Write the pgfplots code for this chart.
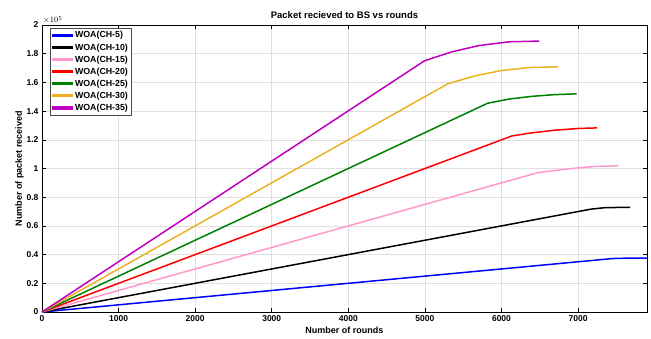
\documentclass[border=0pt]{standalone}
\usepackage{pgfplots}
\pgfplotsset{compat=1.18}
\usepackage{fontspec}
\setmainfont{Liberation Sans}
\definecolor{cblue}{rgb}{0,0,1}
\definecolor{cpink}{rgb}{1,0.6,0.8}
\definecolor{cred}{rgb}{1,0,0}
\definecolor{cgreen}{rgb}{0,0.5,0}
\definecolor{corange}{rgb}{0.93,0.69,0.13}
\definecolor{cmag}{rgb}{0.75,0,0.75}
\begin{document}
\begin{tikzpicture}[x=1pt,y=1pt]
\useasboundingbox (-42pt,-26pt) rectangle (609pt,312pt);
\begin{axis}[
  at={(0,0)}, anchor=south west,
  scale only axis, width=605pt, height=287pt,
  xmin=0, xmax=7900, ymin=0, ymax=200000,
  xtick={0,1000,...,7000},
  ytick={0,20000,...,200000},
  scaled x ticks=false,
  scaled y ticks=base 10:-5,
  tick scale binop=\times,
  every y tick scale label/.style={at={(rel axis cs:0,1)}, anchor=south west, inner sep=1pt, xshift=0pt, font=\fontsize{8}{9}\selectfont},
  yticklabel style={/pgf/number format/fixed, /pgf/number format/precision=1},
  /pgf/number format/assume math mode=true,
  /pgf/number format/1000 sep={},
  ticklabel style={font=\bfseries\fontsize{8.5}{10}\selectfont},
  tick align=inside,
  major tick length=4pt,
  tick style={black, line width=0.6pt},
  axis line style={line width=0.8pt},
  grid=major,
  major grid style={gray!25, line width=0.5pt},
  title={\bfseries Packet recieved to BS vs rounds},
  title style={font=\fontsize{9.5}{11}\selectfont, yshift=-3pt},
  xlabel={\bfseries Number of rounds},
  ylabel={\bfseries Number of packet received},
  label style={font=\fontsize{9}{11}\selectfont},
  xlabel style={yshift=1.5pt},
  ylabel style={yshift=-4pt},
  legend cell align=left,
  legend style={font=\bfseries\fontsize{8.8}{10}\selectfont, draw=black!70, inner sep=1.5pt, row sep=0.2pt, at={(0.013,0.99)}, anchor=north west},
  legend image code/.code={\fill[#1] (0pt,-0.85pt) rectangle (20pt,0.85pt);},
  every axis plot/.append style={line width=1.5pt},
]
\addplot[cblue] coordinates {(0,0) (7450,37250) (7650,37550) (7900,37600)};
\addlegendentry{WOA(CH-5)}
\addplot[black] coordinates {(0,0) (7170,71700) (7350,72700) (7680,73000)};
\addlegendentry{WOA(CH-10)}
\addplot[cpink] coordinates {(0,0) (6480,97200) (7000,100500) (7250,101500) (7525,101900)};
\addlegendentry{WOA(CH-15)}
\addplot[cred] coordinates {(0,0) (6137,122700) (6400,124900) (6700,126700) (7000,127900) (7250,128300)};
\addlegendentry{WOA(CH-20)}
\addplot[cgreen] coordinates {(0,0) (5820,145500) (6100,148400) (6400,150300) (6700,151500) (6980,152000)};
\addlegendentry{WOA(CH-25)}
\addplot[corange] coordinates {(0,0) (5298,159000) (5650,164500) (6000,168300) (6350,170300) (6740,170900)};
\addlegendentry{WOA(CH-30)}
\addplot[cmag] coordinates {(0,0) (4993,175000) (5350,181300) (5710,185700) (6100,188300) (6493,188800)};
\addlegendentry{WOA(CH-35)}
\end{axis}
\end{tikzpicture}
\end{document}
